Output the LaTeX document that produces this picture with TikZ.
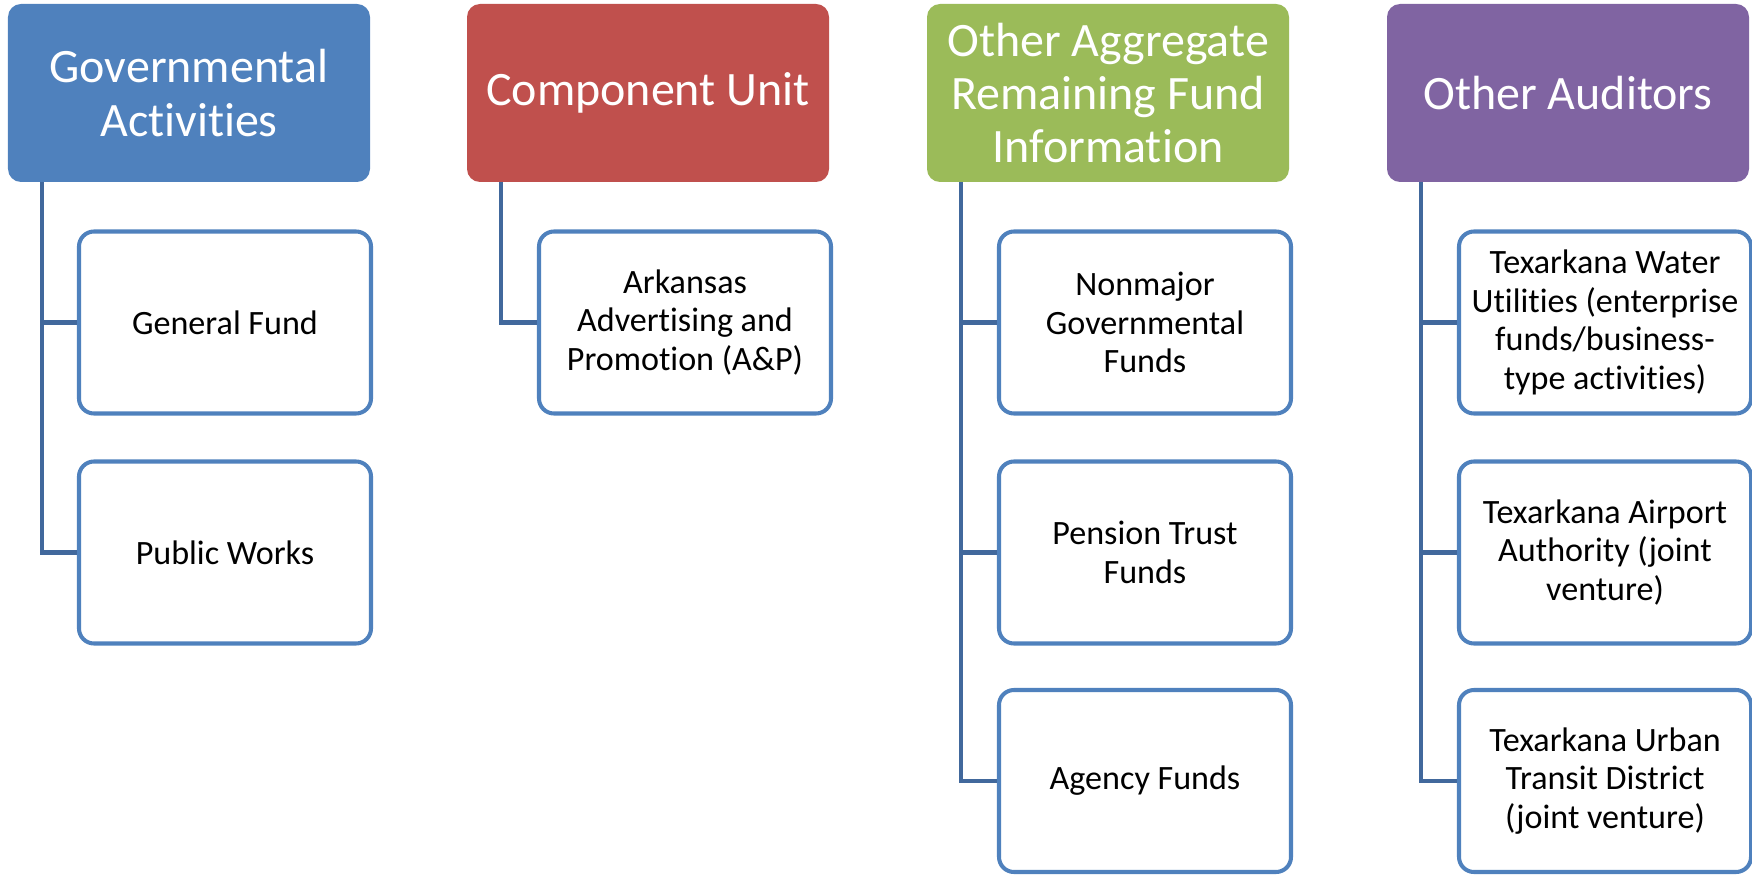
\documentclass[tikz,border=0pt]{standalone}
\usepackage{fontspec}
\setmainfont{Carlito}[Ligatures={NoCommon}]
\usepackage{tikz}
\usetikzlibrary{calc}

\definecolor{hdrblue}{HTML}{4F81BD}
\definecolor{hdrred}{HTML}{C0504D}
\definecolor{hdrgreen}{HTML}{9BBB59}
\definecolor{hdrpurple}{HTML}{8064A2}
\definecolor{linkblue}{HTML}{41689C}

\tikzset{
  head/.style={shape=rectangle,rounded corners=0.26cm,minimum width=7.24cm,minimum height=3.56cm,
    inner sep=0pt,text=white,align=center,font=\fontsize{27.3}{30.2}\selectfont},
  fund/.style={shape=rectangle,rounded corners=0.3cm,draw=hdrblue,line width=2.3pt,fill=white,
    minimum width=5.84cm,minimum height=3.64cm,inner sep=0pt,align=center,font=\fontsize{19.4}{21.9}\selectfont},
  link/.style={draw=linkblue,line width=2.3pt}
}

\begin{document}
\begin{tikzpicture}
	\useasboundingbox (0,0) rectangle (35.04,-17.5);

	% top row
	\node[head,fill=hdrblue] (gov) at (3.78,-1.86) {Governmental\\Activities};
	\node[head,fill=hdrred] (comp) at (12.96,-1.86) {Component Unit};
	\node[head,fill=hdrgreen] (aggr) at (22.16,-1.86) {Other Aggregate\\Remaining Fund\\Information};
	\node[head,fill=hdrpurple] (oth) at (31.36,-1.86) {Other Auditors};

	% funds under each heading
	\node[fund] (gen) at (4.50,-6.45) {General Fund};
	\node[fund] (pub) at (4.50,-11.05) {Public Works};
	\node[fund] (ark) at (13.70,-6.45) {Arkansas\\Advertising and\\Promotion (A\&P)};
	\node[fund] (nonmaj) at (22.90,-6.45) {Nonmajor\\Governmental\\Funds};
	\node[fund] (pens) at (22.90,-11.05) {Pension Trust\\Funds};
	\node[fund] (agency) at (22.90,-15.62) {Agency Funds};
	\node[fund] (water) at (32.10,-6.45) {Texarkana Water\\Utilities (enterprise\\funds/business-\\type activities)};
	\node[fund] (airport) at (32.10,-11.05) {Texarkana Airport\\Authority (joint\\venture)};
	\node[fund] (transit) at (32.10,-15.62) {Texarkana Urban\\Transit District\\(joint venture)};

	\draw[link] ($(gov.south west)+(0.68,0)$) |- (gen.west);
	\draw[link] ($(gov.south west)+(0.68,0)$) |- (pub.west);
	\draw[link] ($(comp.south west)+(0.68,0)$) |- (ark.west);
	\draw[link] ($(aggr.south west)+(0.68,0)$) |- (nonmaj.west);
	\draw[link] ($(aggr.south west)+(0.68,0)$) |- (pens.west);
	\draw[link] ($(aggr.south west)+(0.68,0)$) |- (agency.west);
	\draw[link] ($(oth.south west)+(0.68,0)$) |- (water.west);
	\draw[link] ($(oth.south west)+(0.68,0)$) |- (airport.west);
	\draw[link] ($(oth.south west)+(0.68,0)$) |- (transit.west);
\end{tikzpicture}
\end{document}
